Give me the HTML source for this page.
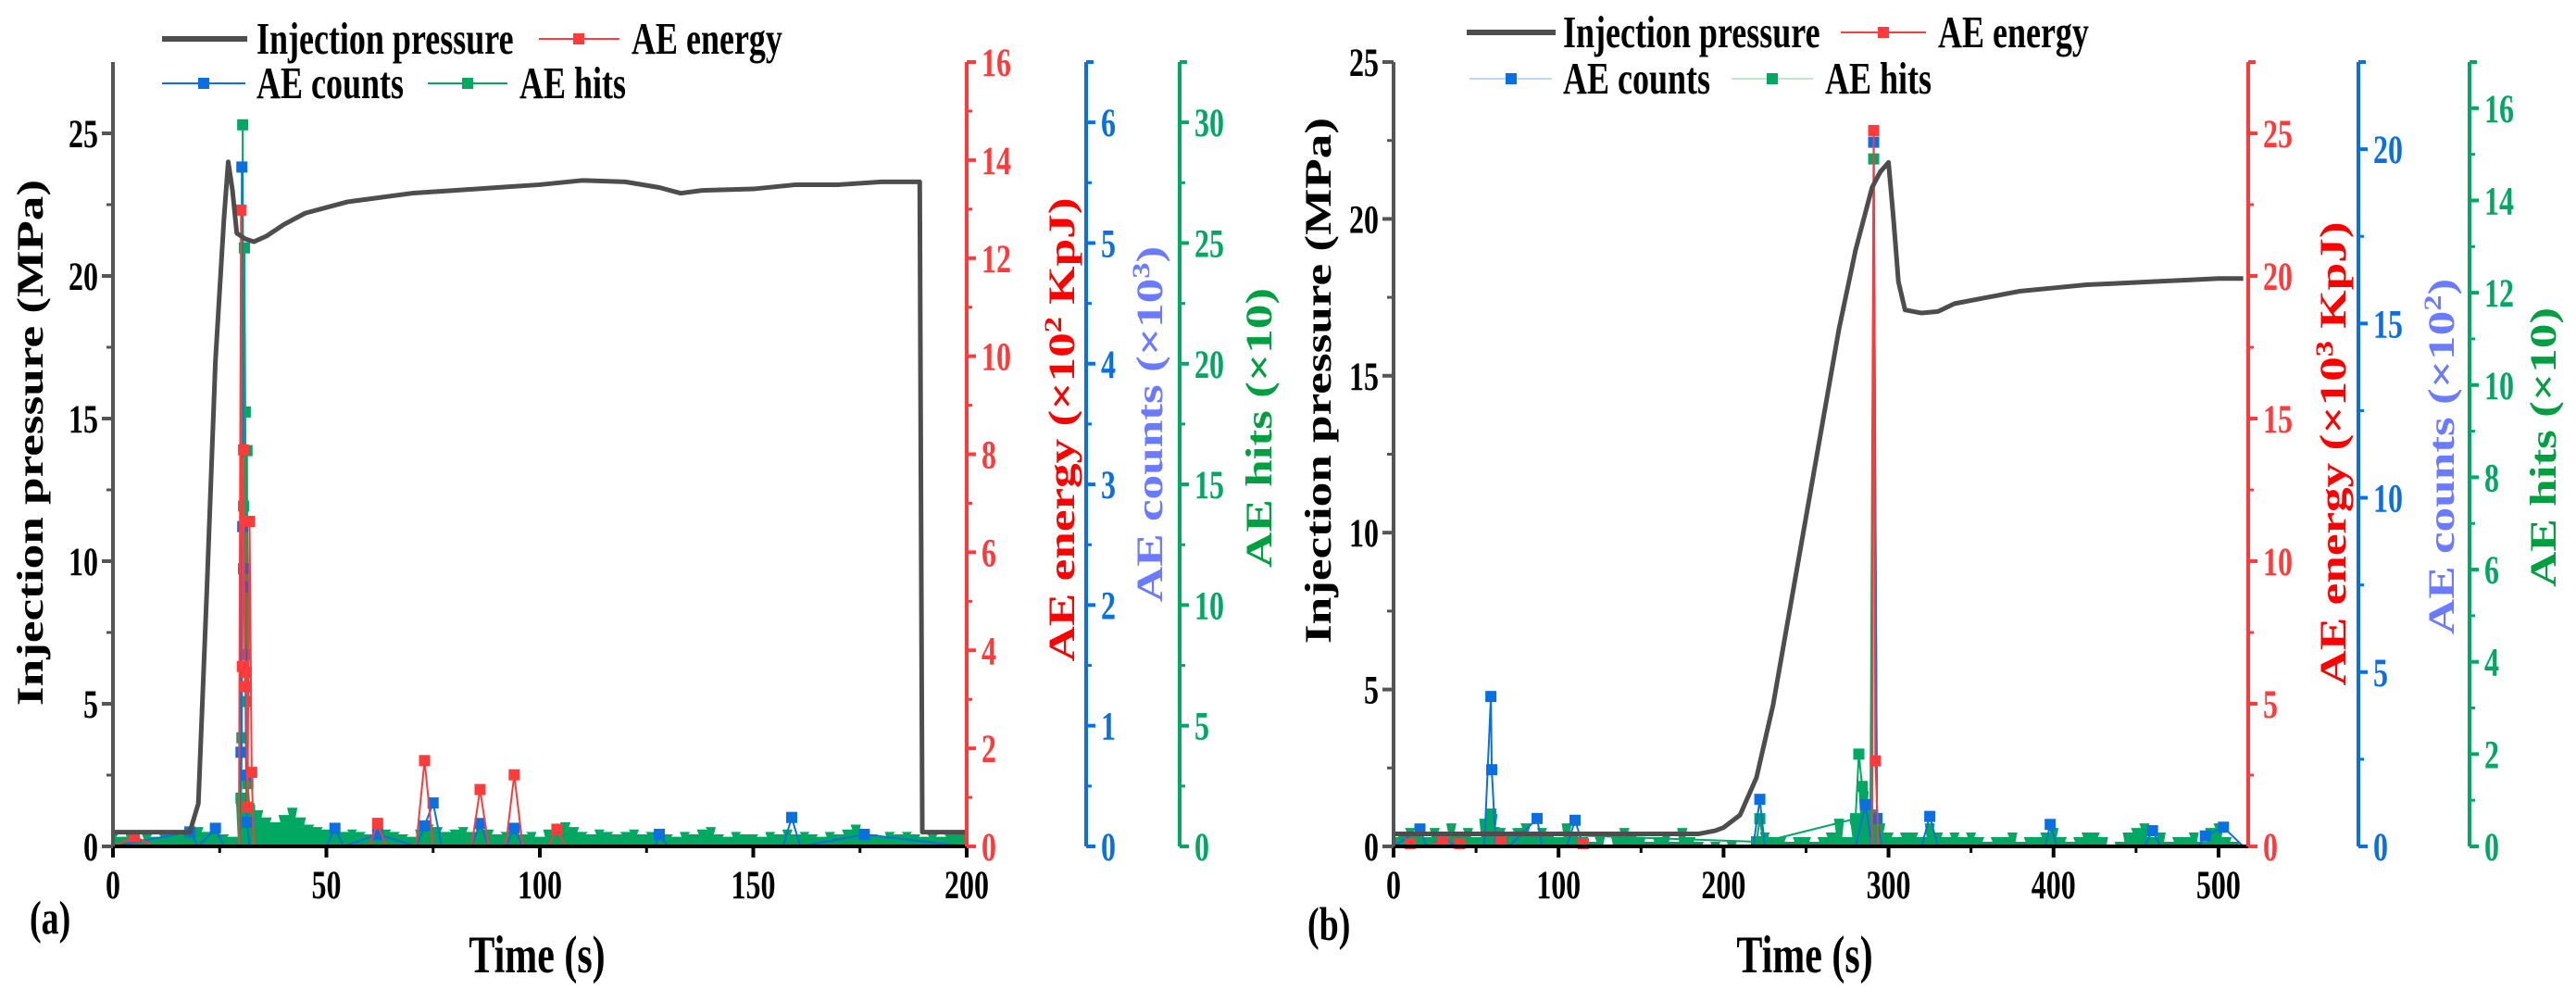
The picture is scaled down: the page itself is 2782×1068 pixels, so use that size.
<!DOCTYPE html>
<html><head><meta charset="utf-8">
<style>
html,body{margin:0;padding:0;background:#fff;}
svg{display:block;font-family:"Liberation Serif",serif;font-weight:bold;}
</style></head>
<body>
<svg id="fig" width="2782" height="1068" viewBox="0 0 2782 1068" xmlns="http://www.w3.org/2000/svg"></svg>
<script>
// ---------- Panel (a) data ----------
const aPressT = [0,10,18,20,22,24,26,27,28,29,31,33,36,40,45,50,55,60,70,80,90,100,110,120,128,133,138,150,160,170,180,188,189,189.6,195,200];
const aPressV = [0.5,0.5,0.5,1.5,9,17,22,24,23,21.5,21.3,21.2,21.4,21.8,22.2,22.4,22.6,22.7,22.9,23.0,23.1,23.2,23.35,23.3,23.1,22.9,23.0,23.05,23.2,23.2,23.3,23.3,23.3,0.5,0.5,0.5];
const aEnergyT = [0,5,10,29.5,30,30.3,30.6,30.9,31.2,31.5,32,32.5,33,60,62,64,71,73,75,84,86,88,92,94,96,102,104,106,200];
const aEnergyV = [0,0.2,0,0,12.98,3.67,8.09,3.26,3.55,0.8,6.63,1.51,0,0,0.47,0,0,1.75,0,0,1.16,0,0,1.46,0,0,0.35,0,0];
const aCountsT = [0,18,20,24,26,29.5,30,30.2,30.4,30.6,30.8,31,31.2,31.4,32,50,52,54,62,71,73,75,77,84,86,88,92,94,96,127,128,130,157,159,161,176,200];
const aCountsV = [0,0.12,0,0.15,0,0,0.78,5.63,2.65,2.30,2.15,1.59,0.59,0.2,0,0,0.15,0,0.1,0,0.17,0.36,0,0,0.19,0,0,0.15,0,0,0.1,0,0,0.24,0,0.1,0];
const aHitsT = Array.from({length:101},(_,i)=>i*2);
const aHitsV = [0.5,0.4,0.6,0.3,0.5,0.4,0.5,0.6,0.5,0.7,
 0.8,0.6,0.7,0.5,0.4,
 2.0,1.8,1.5,1.2,1.0,1.3,1.6,1.2,0.9,0.8,
 0.7,0.8,0.6,0.7,0.6,0.5,0.8,0.7,0.6,0.5,
 0.4,0.7,0.9,0.8,0.6,0.7,0.8,0.6,0.9,0.7,
 0.5,0.6,0.8,0.5,0.6,0.4,0.7,0.6,1.0,0.8,
 0.6,0.5,0.7,0.6,0.5,0.6,0.7,0.5,0.6,0.4,
 0.5,0.4,0.6,0.5,0.7,0.8,0.5,0.4,0.6,0.5,
 0.5,0.4,0.6,0.5,0.7,0.5,0.6,0.5,0.4,0.6,
 0.5,0.7,0.9,0.6,0.5,0.4,0.6,0.5,0.6,0.5,
 0.4,0.5,0.4,0.5,0.6,0.5];
const aHitsSpikeT = [30,30.2,30.4,30.6,30.8,31,31.2,31.4,31.6,32];
const aHitsSpikeV = [2.0,4.5,29.9,14.1,24.8,18,6,16.4,2.6,1.5];
const aPressTicks = [0,5,10,15,20,25];
const aTimeTicks = [0,50,100,150,200];
const aEnergyTicks = [0,2,4,6,8,10,12,14,16];
const aCountsTicks = [0,1,2,3,4,5,6];
const aHitsTicks = [0,5,10,15,20,25,30];

// ---------- Panel (b) data ----------
const bPressT = [0,50,100,150,185,195,200,210,220,230,240,250,260,270,280,290,295,300,303,306,310,320,330,340,360,380,400,420,440,460,480,500,515];
const bPressV = [0.4,0.4,0.4,0.4,0.4,0.5,0.6,1.0,2.2,4.5,7.5,10.5,13.5,16.5,19.0,21.0,21.5,21.8,20.0,18.0,17.1,17.0,17.05,17.3,17.5,17.7,17.8,17.9,17.95,18.0,18.05,18.1,18.1];
const bEnergyT = [0,10,20,30,35,40,60,65,70,110,115,120,288,290,291,292,294,300,515];
const bEnergyV = [0,0.1,0,0.2,0,0.1,0,0.15,0,0,0.1,0,0,0,25.1,3,0,0,0];
const bCountsT = [0,16,20,30,40,55,59,59.5,62,70,87,90,105,110,115,200,218,222,225,280,286,290,291,293,296,320,325,330,395,398,402,455,460,465,488,492,503,515];
const bCountsV = [0,0.5,0,0.2,0,0,4.3,2.2,0,0,0.8,0,0,0.75,0,0,0,1.35,0,0,1.2,0,20.2,0.8,0,0,0.86,0,0,0.63,0,0,0.45,0,0,0.3,0.55,0];
const bHitsT = Array.from({length:104},(_,i)=>i*5);
const bHitsV = [0.2,0.3,0.4,0.3,0.2,0.4,0.3,0.5,0.3,0.4,0.2,0.6,0.7,0.4,0.3,0.4,0.5,0.3,0.4,0.3,
 0.2,0.5,0.3,0.2,0.1,0.2,0.0,0.2,0.4,0.3,0.2,0.1,0.2,0.3,0.1,0.4,0.2,0.1,0.0,0.1,
 0.0,0.1,0.0,0.0,0.2,0.3,0.2,0.2,0.1,0.2,0.2,0.1,0.2,0.3,0.6,0.2,0.5,1.2,0.8,0.5,
 0.3,0.2,0.3,0.3,0.2,0.5,0.3,0.2,0.3,0.2,0.3,0.2,0.1,0.2,0.2,0.3,0.1,0.2,0.2,0.3,
 0.4,0.2,0.1,0.2,0.3,0.3,0.2,0.0,0.1,0.3,0.4,0.5,0.2,0.3,0.1,0.2,0.2,0.3,0.1,0.4,
 0.5,0.2,0.1,0.0];
const bHitsSpikeT = [57,59,61,220,222,224,280,282,284,289,291,293];
const bHitsSpikeV = [0.2,0.7,0.3,0.1,0.6,0.1,0.6,2.0,1.3,0.5,14.9,0.6];
const bPressTicks = [0,5,10,15,20,25];
const bTimeTicks = [0,100,200,300,400,500];
const bEnergyTicks = [0,5,10,15,20,25];
const bCountsTicks = [0,5,10,15,20];
const bHitsTicks = [0,2,4,6,8,10,12,14,16];

const NS = "http://www.w3.org/2000/svg";
const svg = document.getElementById('fig');
const RED="#ff3a3a", BLUE="#0a6fe0", GREEN="#00a862", GRAY="#4d4d4d";
const SY = 1.35;
function mk(tag, attrs, parent){
  const e=document.createElementNS(NS,tag);
  for(const k in attrs) e.setAttribute(k,attrs[k]);
  (parent||svg).appendChild(e);
  return e;
}
function lin(d0,d1,r0,r1){return v=>r0+(v-d0)*(r1-r0)/(d1-d0);}
function tallText(parent,x,y,str,anchor,color,size){
  const t=mk('text',{transform:'translate('+x+','+y+') scale(1,'+SY+')','text-anchor':anchor,'font-size':size,fill:color},parent);
  t.textContent=str;
  return t;
}

function drawPanel(P){
  const g=mk('g',{});
  
  
  const xs=lin(0,P.xmax,P.x0,P.x1);
  const yP=lin(0,P.pmax,P.y0,P.yTop);
  const yE=lin(0,P.emax,P.y0,P.yTop);
  const yC=lin(0,P.cmax,P.y0,P.yTop);
  const yH=lin(0,P.hmax,P.y0,P.yTop);

  let d='M'+xs(P.hitsT[0])+','+P.y0;
  const hw=(xs(P.hitsT[1])-xs(P.hitsT[0]))/2+1;
  for(let i=0;i<P.hitsT.length;i++){
    const cx=xs(P.hitsT[i]), yy=yH(P.hitsV[i]);
    d+=' L'+Math.max(P.x0,cx-hw)+','+yy+' L'+Math.min(P.x1,cx+hw)+','+yy;
  }
  d+=' L'+xs(P.hitsT[P.hitsT.length-1])+','+P.y0+' Z';
  const hf=mk('path',{d:d,fill:GREEN,stroke:'none'},g);
  
  

  function series(T,V,ys,color,name,lw){
    const sg=mk('g',{},g);
    
    
    const pts=T.map((t,i)=>xs(t)+','+ys(V[i])).join(' ');
    mk('polyline',{points:pts,fill:'none',stroke:color,'stroke-width':lw},sg);
    T.forEach((t,i)=>{
      if(V[i]<=0) return;
      const r=mk('rect',{x:xs(t)-6,y:ys(V[i])-6,width:12,height:12,fill:color},sg);
      
      
    });
  }
  series(P.hitsSpikeT,P.hitsSpikeV,yH,GREEN,'ae-hits-spike',2);
  series(P.countsT,P.countsV,yC,BLUE,'ae-counts',2);
  series(P.energyT,P.energyV,yE,RED,'ae-energy',2);

  const pl=mk('polyline',{points:P.pressT.map((t,i)=>xs(t)+','+yP(P.pressV[i])).join(' '),fill:'none',stroke:GRAY,'stroke-width':5,'stroke-linejoin':'round'},g);
  
  

  const xa=mk('g',{},g);
  
  
  mk('line',{x1:P.x0,y1:P.y0,x2:P.x1,y2:P.y0,stroke:'#000','stroke-width':4},xa);
  P.timeTicks.forEach((v,i)=>{
    mk('line',{x1:xs(v),y1:P.y0,x2:xs(v),y2:P.y0+12,stroke:'#000','stroke-width':4},xa);
    if(i<P.timeTicks.length-1){const m=(v+P.timeTicks[i+1])/2;mk('line',{x1:xs(m),y1:P.y0,x2:xs(m),y2:P.y0+7,stroke:'#000','stroke-width':3},xa);}
    const t=tallText(xa,xs(v),P.y0+56,v,'middle','#000',32);
    
    
  });
  const la=mk('g',{},g);
  
  
  mk('line',{x1:P.x0,y1:P.y0,x2:P.x0,y2:P.yTop,stroke:'#555','stroke-width':4},la);
  P.pressTicks.forEach((v,i)=>{
    mk('line',{x1:P.x0-12,y1:yP(v),x2:P.x0,y2:yP(v),stroke:'#555','stroke-width':4},la);
    const m=v+(P.pressTicks[1]-P.pressTicks[0])/2;
    if(m<P.pmax) mk('line',{x1:P.x0-7,y1:yP(m),x2:P.x0,y2:yP(m),stroke:'#555','stroke-width':3},la);
    const t=tallText(la,P.x0-16,yP(v)+15,v,'end','#000',32);
    
    
  });
  function rAxis(ax,ticks,ys,max,color,name){
    const ra=mk('g',{},g);
    
    
    mk('line',{x1:ax,y1:P.y0,x2:ax,y2:P.yTop,stroke:color,'stroke-width':4},ra);
    mk('line',{x1:ax,y1:P.yTop,x2:ax+8,y2:P.yTop,stroke:color,'stroke-width':4},ra);
    const step=ticks[1]-ticks[0];
    ticks.forEach(v=>{
      mk('line',{x1:ax,y1:ys(v),x2:ax+10,y2:ys(v),stroke:color,'stroke-width':4},ra);
      if(v+step/2<max) mk('line',{x1:ax,y1:ys(v+step/2),x2:ax+6,y2:ys(v+step/2),stroke:color,'stroke-width':3},ra);
      const t=tallText(ra,ax+16,ys(v)+15,v,'start',color,32);
      
      
    });
  }
  rAxis(P.x1,P.energyTicks,yE,P.emax,RED,'energy-axis');
  rAxis(P.cAx,P.countsTicks,yC,P.cmax,BLUE,'counts-axis');
  rAxis(P.hAx,P.hitsTicks,yH,P.hmax,GREEN,'hits-axis');
}

drawPanel({id:'panel-a',x0:122,x1:1044,y0:914,yTop:67,xmax:200,pmax:27.5,emax:16,cmax:6.5,hmax:32.5,cAx:1173,hAx:1274,
  pressT:aPressT,pressV:aPressV,energyT:aEnergyT,energyV:aEnergyV,countsT:aCountsT,countsV:aCountsV,hitsT:aHitsT,hitsV:aHitsV,
  hitsSpikeT:aHitsSpikeT,hitsSpikeV:aHitsSpikeV,pressTicks:aPressTicks,timeTicks:aTimeTicks,energyTicks:aEnergyTicks,countsTicks:aCountsTicks,hitsTicks:aHitsTicks});
drawPanel({id:'panel-b',x0:1505,x1:2428,y0:914,yTop:67,xmax:518,pmax:25,emax:27.5,cmax:22.5,hmax:17,cAx:2547,hAx:2667,
  pressT:bPressT,pressV:bPressV,energyT:bEnergyT,energyV:bEnergyV,countsT:bCountsT,countsV:bCountsV,hitsT:bHitsT,hitsV:bHitsV,
  hitsSpikeT:bHitsSpikeT,hitsSpikeV:bHitsSpikeV,pressTicks:bPressTicks,timeTicks:bTimeTicks,energyTicks:bEnergyTicks,countsTicks:bCountsTicks,hitsTicks:bHitsTicks});
</script>
<svg width="2782" height="1068" style="position:absolute;left:0;top:0;font-family:'Liberation Serif',serif;font-weight:bold;">
  <!-- Panel a titles -->
  <text transform="translate(46,478) scale(1,1.33) rotate(-90)" text-anchor="middle" font-size="40" fill="#000">Injection pressure (MPa)</text>
  <text transform="translate(1160,464) scale(1,1.33) rotate(-90)" text-anchor="middle" font-size="40" fill="#ff0000">AE energy (×10<tspan dy="-14" font-size="26">2</tspan><tspan dy="14"> KpJ)</tspan></text>
  <text transform="translate(1255,458) scale(1,1.33) rotate(-90)" text-anchor="middle" font-size="40" fill="#6b7bff">AE counts (×10<tspan dy="-14" font-size="26">3</tspan><tspan dy="14">)</tspan></text>
  <text transform="translate(1373,462) scale(1,1.33) rotate(-90)" text-anchor="middle" font-size="40" fill="#00a040">AE hits (×10)</text>
  <text transform="translate(580,1050) scale(1,1.35)" text-anchor="middle" font-size="42" fill="#000">Time (s)</text>
  <text transform="translate(32,1008) scale(1,1.35)" font-size="38" fill="#000">(a)</text>
  <!-- Panel a legend -->
  <g>
    <g><line x1="175" y1="42" x2="267" y2="42" stroke="#4d4d4d" stroke-width="6"/><text transform="translate(277,58) scale(1,1.35)" font-size="36">Injection pressure</text></g>
    <g><line x1="582" y1="42" x2="669" y2="42" stroke="#ff3a3a" stroke-width="2"/><rect x="619" y="36" width="12" height="12" fill="#ff3a3a"/><text transform="translate(682,58) scale(1,1.35)" font-size="36">AE energy</text></g>
    <g><line x1="175" y1="90" x2="265" y2="90" stroke="#0a6fe0" stroke-width="2"/><rect x="214" y="84" width="12" height="12" fill="#0a6fe0"/><text transform="translate(277,106) scale(1,1.35)" font-size="36">AE counts</text></g>
    <g><line x1="462" y1="90" x2="548" y2="90" stroke="#00a862" stroke-width="2"/><rect x="499" y="84" width="12" height="12" fill="#00a862"/><text transform="translate(561,106) scale(1,1.35)" font-size="36">AE hits</text></g>
  </g>
  <!-- Panel b titles -->
  <text transform="translate(1437,411) scale(1,1.33) rotate(-90)" text-anchor="middle" font-size="40" fill="#000">Injection pressure (MPa)</text>
  <text transform="translate(2533,490) scale(1,1.33) rotate(-90)" text-anchor="middle" font-size="40" fill="#ff0000">AE energy (×10<tspan dy="-14" font-size="26">3</tspan><tspan dy="14"> KpJ)</tspan></text>
  <text transform="translate(2650,493) scale(1,1.33) rotate(-90)" text-anchor="middle" font-size="40" fill="#6b7bff">AE counts (×10<tspan dy="-14" font-size="26">2</tspan><tspan dy="14">)</tspan></text>
  <text transform="translate(2760,483) scale(1,1.33) rotate(-90)" text-anchor="middle" font-size="40" fill="#00a040">AE hits (×10)</text>
  <text transform="translate(1949,1050) scale(1,1.35)" text-anchor="middle" font-size="42" fill="#000">Time (s)</text>
  <text transform="translate(1412,1015) scale(1,1.35)" font-size="38" fill="#000">(b)</text>
  <!-- Panel b legend -->
  <g>
    <g><line x1="1584" y1="35" x2="1680" y2="35" stroke="#4d4d4d" stroke-width="6"/><text transform="translate(1688,51) scale(1,1.35)" font-size="36">Injection pressure</text></g>
    <g><line x1="1988" y1="35" x2="2080" y2="35" stroke="#ff3a3a" stroke-width="2"/><rect x="2028" y="29" width="12" height="12" fill="#ff3a3a"/><text transform="translate(2093,51) scale(1,1.35)" font-size="36">AE energy</text></g>
    <g><line x1="1587" y1="85" x2="1676" y2="85" stroke="#bcd8f5" stroke-width="2"/><rect x="1626" y="79" width="12" height="12" fill="#0a6fe0"/><text transform="translate(1688,101) scale(1,1.35)" font-size="36">AE counts</text></g>
    <g><line x1="1870" y1="85" x2="1958" y2="85" stroke="#bfe8d2" stroke-width="2"/><rect x="1908" y="79" width="12" height="12" fill="#00a862"/><text transform="translate(1971,101) scale(1,1.35)" font-size="36">AE hits</text></g>
  </g>
</svg>
</body></html>
